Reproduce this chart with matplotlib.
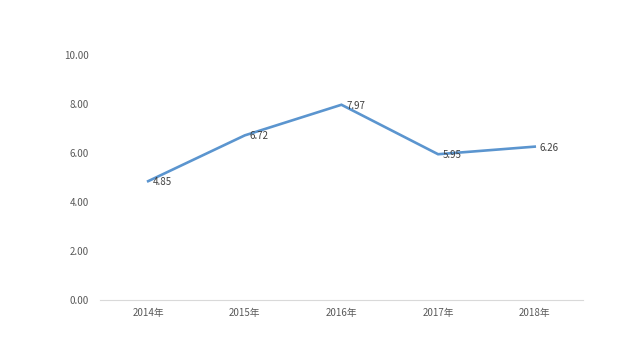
import matplotlib
matplotlib.use('Agg')
import matplotlib.pyplot as plt

years = ['2014年', '2015年', '2016年', '2017年', '2018年']
values = [4.85, 6.72, 7.97, 5.95, 6.26]
y_ticks = [0, 2, 4, 6, 8, 10]

plt.rcParams['font.family'] = ['Noto Sans CJK SC', 'DejaVu Sans']

fig = plt.figure(figsize=(6.4, 3.55), dpi=100)
ax = fig.add_axes([0.156, 0.155, 0.755, 0.69])

x = range(len(years))
ax.plot(x, values, color='#5b95cf', linewidth=1.9, solid_joinstyle='miter')
for i, v in enumerate(values):
    ax.annotate('%.2f' % v, (i, v), xytext=(5, -1), textcoords='offset pixels',
                ha='left', va='center', fontsize=7, color='#404040')

ax.set_xlim(-0.5, len(years) - 0.5)
ax.set_ylim(0, 10)
ax.set_xticks(list(x))
ax.set_xticklabels(years)
ax.set_yticks(y_ticks)
ax.set_yticklabels(['%.2f' % t for t in y_ticks])
ax.tick_params(length=0, labelsize=7, colors='#595959')
ax.tick_params(axis='y', pad=8)
ax.tick_params(axis='x', pad=6)
for s in ['top', 'right', 'left']:
    ax.spines[s].set_visible(False)
ax.spines['bottom'].set_color('#d9d9d9')

fig.savefig('out.png', dpi=100)
